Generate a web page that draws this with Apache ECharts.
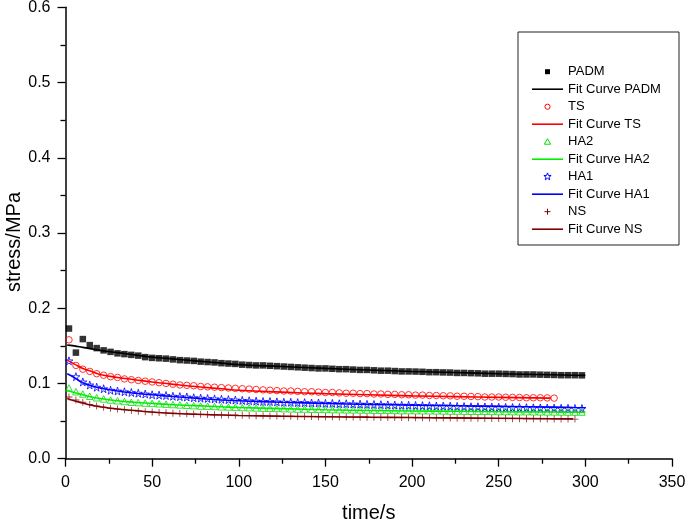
<!DOCTYPE html>
<html>
<head>
<meta charset="utf-8">
<script src="https://cdn.jsdelivr.net/npm/echarts@6/dist/echarts.min.js"></script>
<style>html,body{margin:0;padding:0;background:#fff}#c{width:685px;height:522px}</style>
</head>
<body>
<div id="c"></div>
<script>
// measured times (s) of the data points
const times = [2,6,10,14,18,22,26,30,34,38,42,46,50,54,58,62,66,70,74,78,
  82,86,90,94,98,102,106,110,114,118,122,126,130,134,138,142,146,150,154,158,
  162,166,170,174,178,182,186,190,194,198,202,206,210,214,218,222,226,230,234,238,
  242,246,250,254,258,262,266,270,274,278,282,286,290,294,298];

const padm = [0.173,0.141,0.159,0.151,0.147,0.144,0.142,0.140,0.139,0.138,
  0.137,0.135,0.134,0.1335,0.133,0.132,0.131,0.1305,0.130,0.129,
  0.1285,0.128,0.127,0.1265,0.126,0.125,0.1245,0.124,0.124,0.1235,
  0.123,0.1225,0.122,0.1215,0.121,0.1205,0.120,0.120,0.1195,0.119,
  0.119,0.1185,0.118,0.118,0.1175,0.117,0.117,0.1165,0.116,0.116,
  0.1158,0.1155,0.115,0.115,0.1147,0.1145,0.114,0.114,0.1137,0.1135,
  0.113,0.113,0.113,0.1127,0.1125,0.112,0.112,0.112,0.1117,0.1115,
  0.1113,0.111,0.111,0.111,0.1108];

const ts = [0.158,0.124,0.119,0.116,0.113,0.111,0.109,0.108,0.106,0.105,
  0.104,0.103,0.102,0.101,0.100,0.099,0.098,0.0975,0.097,0.096,
  0.0955,0.095,0.0945,0.094,0.0935,0.093,0.0925,0.092,0.0915,0.091,
  0.0905,0.090,0.090,0.0895,0.089,0.089,0.0885,0.088,0.088,0.0875,
  0.087,0.087,0.0865,0.0865,0.086,0.086,0.0855,0.0855,0.085,0.085,
  0.0845,0.0845,0.084,0.084,0.0837,0.0835,0.083,0.083,0.0827,0.0825,
  0.082,0.082,0.082,0.0817,0.0815,0.0813,0.081,0.081,0.081,0.0808,
  0.0805];

const ha2 = [0.094,0.089,0.086,0.083,0.081,0.0795,0.078,0.077,0.076,0.075,
  0.0745,0.074,0.0735,0.073,0.0725,0.072,0.0715,0.071,0.0705,0.070,
  0.0698,0.0695,0.069,0.0688,0.0685,0.068,0.0678,0.0675,0.0672,0.067,
  0.0668,0.0665,0.0663,0.066,0.066,0.0658,0.0656,0.0655,0.0653,0.0652,
  0.065,0.065,0.0648,0.0647,0.0645,0.0644,0.0643,0.0642,0.064,0.064,
  0.0639,0.0638,0.0637,0.0636,0.0635,0.0634,0.0633,0.0632,0.0631,0.063,
  0.063,0.0629,0.0628,0.0627,0.0626,0.0625,0.0625,0.0624,0.0623,0.0622,
  0.0622,0.0621,0.062,0.062,0.062];

const ha1 = [0.130,0.109,0.102,0.098,0.095,0.093,0.091,0.090,0.089,0.088,
  0.087,0.086,0.085,0.0845,0.084,0.083,0.0825,0.082,0.081,0.0805,
  0.080,0.0795,0.079,0.0785,0.078,0.0775,0.077,0.0765,0.076,0.076,
  0.0755,0.075,0.075,0.0745,0.0745,0.074,0.074,0.0735,0.0735,0.073,
  0.073,0.0727,0.0725,0.0722,0.072,0.0718,0.0715,0.0713,0.071,0.071,
  0.0707,0.0705,0.0703,0.070,0.070,0.0698,0.0695,0.0693,0.069,0.069,
  0.0688,0.0686,0.0684,0.0682,0.068,0.068,0.0678,0.0676,0.0675,0.0673,
  0.0672,0.067,0.067,0.0668,0.0667];

const ns = [0.082,0.078,0.075,0.072,0.070,0.0685,0.067,0.066,0.065,0.064,
  0.0632,0.0625,0.062,0.0613,0.061,0.0605,0.060,0.0597,0.0594,0.059,
  0.0588,0.0585,0.0582,0.058,0.0578,0.0576,0.0574,0.0572,0.057,0.0568,
  0.0567,0.0565,0.0564,0.0562,0.0561,0.056,0.0558,0.0557,0.0556,0.0555,
  0.0554,0.0553,0.0552,0.0551,0.055,0.0549,0.0548,0.0547,0.0546,0.0545,
  0.0544,0.0543,0.0542,0.0541,0.054,0.054,0.0539,0.0538,0.0537,0.0536,
  0.0535,0.0535,0.0534,0.0533,0.0532,0.0532,0.0531,0.053,0.053,0.0529,
  0.0528,0.0528,0.0527,0.0527];

// fit curves
const fitTimes = [1,5,10,15,20,30,40,50,60,75,90,100,125,150,175,200,225,250,280,293,300];
const fitPadm = [0.151,0.150,0.148,0.146,0.144,0.141,0.138,0.135,0.133,0.130,0.127,0.125,0.1225,0.120,0.118,0.116,0.1145,0.113,0.1115,0.111,0.1108];
const fitTs = [0.131,0.126,0.120,0.116,0.112,0.108,0.105,0.102,0.0995,0.096,0.093,0.091,0.0885,0.0865,0.085,0.0835,0.0825,0.0815,0.0805];
const fitHa2 = [0.091,0.088,0.085,0.082,0.080,0.077,0.075,0.0735,0.072,0.0705,0.069,0.068,0.0665,0.065,0.064,0.0635,0.063,0.0625,0.062,0.0618,0.0617];
const fitHa1 = [0.113,0.108,0.101,0.097,0.094,0.090,0.087,0.085,0.083,0.0805,0.078,0.077,0.075,0.0735,0.0722,0.0712,0.0703,0.0695,0.0685,0.068,0.0678];
const fitNs = [0.080,0.077,0.074,0.071,0.069,0.066,0.064,0.062,0.0605,0.059,0.058,0.0575,0.0565,0.0558,0.0552,0.0547,0.0542,0.0537,0.0532,0.053];

const yTicks = ['0.0','0.1','0.2','0.3','0.4','0.5','0.6'];
const legendNames = ['PADM','Fit Curve PADM','TS','Fit Curve TS','HA2','Fit Curve HA2','HA1','Fit Curve HA1','NS','Fit Curve NS'];

function pairs(xs, ys) { return ys.map((v, i) => [xs[i], v]); }

const FONT = 'Liberation Sans, Arial, sans-serif';
const STAR = 'path://M50,0 L61,35 L98,35 L68,57 L79,91 L50,70 L21,91 L32,57 L2,35 L39,35 Z';
const PLUS = 'path://M44,0H56V44H100V56H56V100H44V56H0V44H44Z';

const C_PADM = '#000000', C_TS = '#ff0000', C_HA2 = '#00dd00', C_HA2F = '#00ee00', C_HA1 = '#0000ff', C_NS = '#800000';

function scatter(name, data, symbol, size, color, hollow) {
  return {
    name, type: 'scatter', data: pairs(times, data), symbol, symbolSize: size,
    itemStyle: hollow ? { color: 'rgba(255,255,255,0)', borderColor: color, borderWidth: 1 } : { color },
    emphasis: { disabled: true }, silent: true
  };
}
function fit(name, data, color) {
  return {
    name, type: 'line', data: pairs(fitTimes, data), symbol: 'none', smooth: true,
    lineStyle: { color, width: 1.6 }, itemStyle: { color }, silent: true
  };
}

// legend drawn as graphic elements (box, keys, text)
const LX = 532, LW = 31, LY0 = 71.7, LDY = 17.5;
const legendKeys = [
  { kind: 'rect', color: C_PADM }, { kind: 'line', color: C_PADM },
  { kind: 'circle', color: C_TS }, { kind: 'line', color: C_TS },
  { kind: 'tri', color: C_HA2 }, { kind: 'line', color: C_HA2F },
  { kind: 'star', color: C_HA1 }, { kind: 'line', color: C_HA1 },
  { kind: 'plus', color: C_NS }, { kind: 'line', color: C_NS }
];
const graphics = [{
  type: 'rect', shape: { x: 518, y: 32, width: 161, height: 213 },
  style: { fill: 'none', stroke: '#222', lineWidth: 1 }, silent: true
}];
legendKeys.forEach((k, i) => {
  const y = LY0 + i * LDY, cx = LX + LW / 2;
  let el;
  if (k.kind === 'line') el = { type: 'line', shape: { x1: LX, y1: y, x2: LX + LW, y2: y }, style: { stroke: k.color, lineWidth: 1.6 } };
  else if (k.kind === 'rect') el = { type: 'rect', shape: { x: cx - 2.5, y: y - 2.5, width: 5, height: 5 }, style: { fill: k.color } };
  else if (k.kind === 'circle') el = { type: 'circle', shape: { cx, cy: y, r: 2.6 }, style: { fill: 'none', stroke: k.color, lineWidth: 1 } };
  else if (k.kind === 'tri') el = { type: 'polygon', shape: { points: [[cx, y - 3], [cx + 3.2, y + 2.5], [cx - 3.2, y + 2.5]] }, style: { fill: 'none', stroke: k.color, lineWidth: 1 } };
  else if (k.kind === 'star') {
    const pts = [];
    for (let j = 0; j < 10; j++) { const a = -Math.PI / 2 + j * Math.PI / 5, r = j % 2 ? 1.6 : 3.8; pts.push([cx + r * Math.cos(a), y + r * Math.sin(a)]); }
    el = { type: 'polygon', shape: { points: pts }, style: { fill: 'none', stroke: k.color, lineWidth: 1 } };
  } else el = { type: 'group', children: [
    { type: 'line', shape: { x1: cx - 3, y1: y, x2: cx + 3, y2: y }, style: { stroke: k.color, lineWidth: 1 } },
    { type: 'line', shape: { x1: cx, y1: y - 3, x2: cx, y2: y + 3 }, style: { stroke: k.color, lineWidth: 1 } }] };
  el.silent = true;
  graphics.push(el);
  graphics.push({ type: 'text', x: 568, y, silent: true,
    style: { text: legendNames[i], fill: '#000', font: '13px ' + FONT, verticalAlign: 'middle', align: 'left' } });
});

const chart = echarts.init(document.getElementById('c'), null, { renderer: 'canvas' });
chart.setOption({
  animation: false,
  backgroundColor: '#fff',
  grid: { left: 65.5, right: 13, top: 7.3, bottom: 63.3, outerBoundsMode: 'none' },
  xAxis: {
    type: 'value', min: 0, max: 350, interval: 50,
    name: 'time/s', nameLocation: 'middle', nameGap: 45, nameMoveOverlap: false,
    nameTextStyle: { fontFamily: FONT, fontSize: 20, color: '#000' },
    axisLine: { show: true, onZero: false, lineStyle: { color: '#000', width: 1.5 } },
    axisTick: { show: true, inside: false, length: 8, lineStyle: { color: '#000', width: 1.3 } },
    minorTick: { show: true, splitNumber: 2, length: 5, lineStyle: { color: '#000', width: 1.3 } },
    axisLabel: { fontFamily: FONT, fontSize: 16, color: '#000', margin: 16 },
    splitLine: { show: false }
  },
  yAxis: {
    type: 'value', min: 0, max: 0.6, interval: 0.1,
    name: 'stress/MPa', nameLocation: 'middle', nameGap: 41, nameMoveOverlap: false,
    nameTextStyle: { fontFamily: FONT, fontSize: 20, color: '#000', padding: [0, 18, 0, 0] },
    axisLine: { show: true, onZero: false, lineStyle: { color: '#000', width: 1.5 } },
    axisTick: { show: true, inside: false, length: 8, lineStyle: { color: '#000', width: 1.3 } },
    minorTick: { show: true, splitNumber: 2, length: 5, lineStyle: { color: '#000', width: 1.3 } },
    axisLabel: { fontFamily: FONT, fontSize: 16, color: '#000', margin: 15,
      formatter: v => yTicks[Math.round(v * 10)] },
    splitLine: { show: false }
  },
  graphic: graphics,
  series: [
    scatter('PADM', padm, 'rect', 6.5, C_PADM, false),
    fit('Fit Curve PADM', fitPadm, C_PADM),
    scatter('TS', ts, 'circle', 6.5, C_TS, true),
    fit('Fit Curve TS', fitTs, C_TS),
    scatter('HA2', ha2, 'triangle', 6.5, C_HA2, true),
    fit('Fit Curve HA2', fitHa2, C_HA2F),
    scatter('HA1', ha1, STAR, 8, C_HA1, true),
    fit('Fit Curve HA1', fitHa1, C_HA1),
    scatter('NS', ns, PLUS, 7, C_NS, false),
    fit('Fit Curve NS', fitNs, C_NS)
  ]
});
</script>
</body>
</html>
